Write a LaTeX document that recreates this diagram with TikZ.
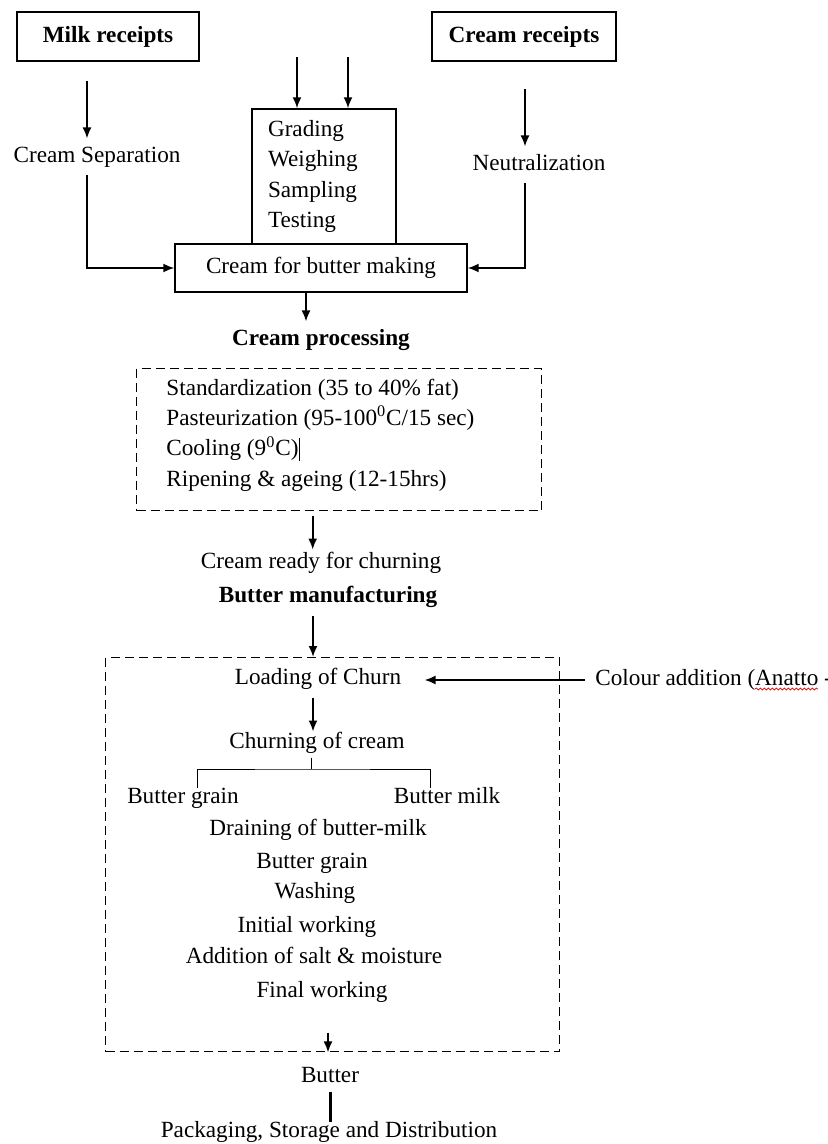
\documentclass[tikz,border=0pt]{standalone}
\usepackage{fontspec}
\setmainfont{Liberation Serif}
\usepackage{tikz}
\usetikzlibrary{arrows.meta,positioning,calc,decorations.pathmorphing}
\newcommand{\fsz}{\fontsize{11.6pt}{15.2pt}\selectfont}

\begin{document}
\begin{tikzpicture}[x=0.5pt, y=-0.5pt,
    box/.style={draw, line width=0.7pt, align=center, font=\fsz},
    lbl/.style={inner sep=0pt, outer ysep=4pt, text height=8pt, text depth=2.5pt, font=\fsz},
    head/.style={lbl, font=\fsz\bfseries},
    steps/.style={inner sep=0pt, align=left, font=\fsz},
    dbox/.style={draw, line width=0.7pt, dash pattern=on 4.5pt off 2.5pt, anchor=north west},
    arrow/.style={-{Latex[length=5.5pt, width=4.5pt]}, line width=0.9pt}
]
\useasboundingbox (0,0) rectangle (828,1144);

\node[box, font=\fsz\bfseries, minimum width=91pt, minimum height=24.5pt] (milk) at (108,36.5) {Milk receipts};
\node[box, font=\fsz\bfseries, minimum width=92pt, minimum height=24.5pt] (crm) at (524,36.5) {Cream receipts};
\node[lbl] (sep) at (97,157) {Cream Separation};
\node[lbl] (neut) at (539,165) {Neutralization};
\node[box, align=left, text width=56pt, inner xsep=8pt, minimum height=67.5pt] (grade) at (324,176.5) {Grading\\Weighing\\Sampling\\Testing};
\node[box, minimum width=146pt, minimum height=24pt] (cbm) at (321,268) {Cream for butter making};

\node[head] (cproc) at (321,340) {Cream processing};
\node[dbox, minimum width=202.5pt, minimum height=71pt] (cpbox) at (136,368) {};
\node[steps, anchor=west] (cpsteps) at (166,435) {Standardization (35 to 40\% fat)\\Pasteurization (95-100\textsuperscript{0}C/15 sec)\\Cooling (9\textsuperscript{0}C)\rule[-2.5pt]{0.4pt}{11.5pt}\\Ripening \& ageing (12-15hrs)};
\node[lbl] (ready) at (321,563) {Cream ready for churning};
\node[head] (mfg) at (328,597) {Butter manufacturing};

\node[dbox, minimum width=227pt, minimum height=197pt] (mfgbox) at (105,657) {};
\node[lbl] (load) at (318,679) {Loading of Churn};
\node[lbl, anchor=west] (colour) at (595,680) {Colour addition (Anatto -};
\node[lbl] (churn) at (317,743) {Churning of cream};
\node[lbl] (grain1) at (183,798) {Butter grain};
\node[lbl] (bmilk) at (447,798) {Butter milk};
\node[lbl] (drain) at (318,830) {Draining of butter-milk};
\node[lbl] (grain2) at (312,863) {Butter grain};
\node[lbl] (wash) at (315,893) {Washing};
\node[lbl] (initw) at (307,927) {Initial working};
\node[lbl] (salt) at (314,958) {Addition of salt \& moisture};
\node[lbl] (finalw) at (322,992) {Final working};
\node[lbl] (butter) at (330,1077) {Butter};
\node[lbl] (pack) at (329,1132) {Packaging, Storage and Distribution};

\coordinate (m1) at ($(milk.south)+(-21,0)$);
\draw[arrow, shorten <=9.5pt] (m1) -- (m1 |- sep.north);
\draw[arrow] ($(sep.south)+(-10,0)$) |- (cbm.west);
\coordinate (c1) at ($(crm.south)+(1,0)$);
\draw[arrow, shorten <=13.5pt] (c1) -- (c1 |- neut.north);
\draw[arrow] ($(neut.south)+(-14,0)$) |- (cbm.east);
\coordinate (in1) at ($(grade.north)+(-27,-51)$);
\coordinate (in2) at ($(grade.north)+(24,-51)$);
\draw[arrow] (in1) -- (in1 |- grade.north);
\draw[arrow] (in2) -- (in2 |- grade.north);

\coordinate (p1) at ($(cbm.south)+(-15,0)$);
\draw[arrow] (p1) -- (p1 |- cproc.north);
\coordinate (p2) at ($(cpbox.south)+(-26.5,0)$);
\draw[arrow, shorten <=2.5pt, shorten >=-2.5pt] (p2) -- (p2 |- ready.north);
\coordinate (p3) at ($(mfg.south)+(-15,0)$);
\draw[arrow] (p3) -- (p3 |- mfgbox.north);
\draw[arrow, shorten <=5pt, shorten >=11.5pt] (colour.west) -- (colour.west -| load.east);
\coordinate (p4) at ($(load.south)+(-5,0)$);
\draw[arrow, shorten >=-3.5pt] (p4) -- (p4 |- churn.north);
\coordinate (bj) at ($(churn.south)+(-6,7.5)$);
\draw[line width=0.5pt] ($(churn.south)+(-6,-3.5)$) -- (bj);
\draw[line width=0.5pt] ($(grain1.north)+(14,8.5)$) |- (bj) -| ($(bmilk.north)+(-17,8.5)$);
\coordinate (p5) at ($(finalw.south)+(6,0)$);
\draw[arrow, shorten <=11pt] (p5) -- (p5 |- mfgbox.south);
\draw[line width=1.5pt, shorten <=-2pt, shorten >=-4pt] (butter.south) -- (butter.south |- pack.north);
\draw[red!85!black, line width=0.35pt, decorate, decoration={snake, amplitude=0.5pt, segment length=2pt}] ($(colour.west)+(160,9)$) -- ($(colour.west)+(223,9)$);
\end{tikzpicture}
\end{document}
